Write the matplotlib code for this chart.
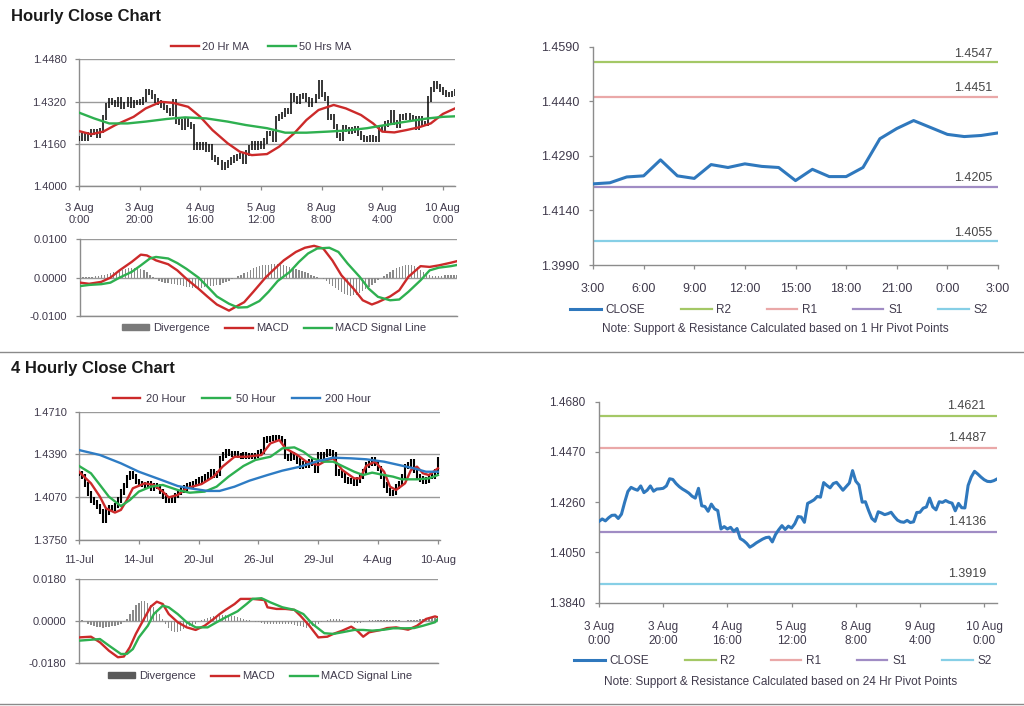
import numpy as np
import matplotlib
matplotlib.use('Agg')
import matplotlib.pyplot as plt
from matplotlib.lines import Line2D
from matplotlib.patches import Patch

plt.rcParams['font.family'] = ['Liberation Sans', 'DejaVu Sans']

# ---------------- DATA ----------------
# hourly close (3 Aug 0:00 .. 10 Aug ~4:00), one value per hourly bar
hourly_close = [
    1.4180, 1.4190, 1.4182, 1.4195, 1.4205, 1.4206, 1.4192, 1.4210, 1.4260, 1.4305,
    1.4322, 1.4315, 1.4310, 1.4328, 1.4300, 1.4310, 1.4328, 1.4306, 1.4315, 1.4316,
    1.4318, 1.4328, 1.4358, 1.4355, 1.4338, 1.4325, 1.4315, 1.4307, 1.4298, 1.4285,
    1.4277, 1.4318, 1.4245, 1.4242, 1.4222, 1.4252, 1.4232, 1.4225, 1.4148, 1.4158,
    1.4148, 1.4155, 1.4138, 1.4150, 1.4108, 1.4100, 1.4088, 1.4072, 1.4080, 1.4090,
    1.4098, 1.4106, 1.4112, 1.4114, 1.4094, 1.4125, 1.4145, 1.4162, 1.4146, 1.4160,
    1.4152, 1.4170, 1.4200, 1.4198, 1.4176, 1.4255, 1.4262, 1.4270, 1.4284, 1.4281,
    1.4342, 1.4330, 1.4320, 1.4338, 1.4343, 1.4327, 1.4310, 1.4325, 1.4340, 1.4392,
    1.4348, 1.4332, 1.4260, 1.4262, 1.4225, 1.4192, 1.4180, 1.4220, 1.4215, 1.4208,
    1.4212, 1.4218, 1.4200, 1.4185, 1.4178, 1.4176, 1.4184, 1.4175, 1.4178, 1.4217,
    1.4218, 1.4235, 1.4240, 1.4277, 1.4240, 1.4228, 1.4262, 1.4259, 1.4267, 1.4260,
    1.4256, 1.4224, 1.4255, 1.4237, 1.4236, 1.4330, 1.4366, 1.4389, 1.4378, 1.4365,
    1.4354, 1.4347, 1.4346, 1.4350, 1.4357]

hourly_ticklabels = ['3 Aug\n0:00', '3 Aug\n20:00', '4 Aug\n16:00', '5 Aug\n12:00',
                     '8 Aug\n8:00', '9 Aug\n4:00', '10 Aug\n0:00']

ma20_h_x = [0, 4, 8, 12, 18, 22, 27, 31, 36, 40, 44, 49, 53, 57, 62, 66, 71, 75, 79, 84,
            88, 93, 97, 100, 104, 108, 112, 116, 120, 124]
ma20_h = [1.4208, 1.4196, 1.4206, 1.4231, 1.4262, 1.4294, 1.4319, 1.4315, 1.4300, 1.4262,
          1.4212, 1.4162, 1.4130, 1.4117, 1.4121, 1.4149, 1.4200, 1.4250, 1.4288, 1.4307,
          1.4294, 1.4269, 1.4237, 1.4206, 1.4203, 1.4212, 1.4222, 1.4237, 1.4273, 1.4294]

ma50_h_x = [0, 5, 10, 16, 22, 29, 35, 42, 49, 55, 62, 68, 75, 82, 88, 95, 101, 108, 115, 120, 124]
ma50_h = [1.4278, 1.4256, 1.4237, 1.4237, 1.4244, 1.4254, 1.4260, 1.4256, 1.4244, 1.4231,
          1.4219, 1.4202, 1.4202, 1.4206, 1.4210, 1.4219, 1.4231, 1.4244, 1.4256, 1.4262, 1.4264]

macd_h_x = [0, 3, 7, 10, 13, 17, 20, 22, 25, 29, 32, 35, 39, 42, 45, 49, 51, 54, 57, 61,
            64, 67, 71, 74, 77, 80, 83, 86, 90, 93, 96, 98, 102, 105, 108, 112, 115, 118, 122, 124]
macd_h = [-0.0013, -0.0016, -0.0011, 0.0000, 0.0019, 0.0041, 0.0060, 0.0058, 0.0045, 0.0035,
          0.0019, -0.0003, -0.0029, -0.0050, -0.0070, -0.0086, -0.0077, -0.0064, -0.0037, 0.0000,
          0.0023, 0.0045, 0.0067, 0.0078, 0.0083, 0.0076, 0.0045, 0.0006, -0.0029, -0.0059,
          -0.0070, -0.0064, -0.0049, -0.0033, 0.0002, 0.0030, 0.0028, 0.0032, 0.0039, 0.0043]

signal_h_x = [0, 3, 7, 10, 13, 17, 20, 23, 25, 29, 32, 35, 39, 42, 45, 49, 52, 55, 59, 62,
              65, 69, 72, 75, 78, 82, 85, 88, 92, 95, 98, 102, 105, 108, 112, 115, 118, 122, 124]
signal_h = [-0.0022, -0.0019, -0.0017, -0.0013, 0.0000, 0.0015, 0.0032, 0.0050, 0.0054, 0.0050,
            0.0038, 0.0023, 0.0000, -0.0024, -0.0049, -0.0068, -0.0078, -0.0077, -0.0061, -0.0037,
            -0.0009, 0.0015, 0.0041, 0.0063, 0.0076, 0.0078, 0.0067, 0.0037, 0.0002, -0.0029,
            -0.0050, -0.0059, -0.0057, -0.0037, -0.0007, 0.0019, 0.0026, 0.0030, 0.0033]

divergence_h = [
    0.0003, 0.0002, 0.0002, 0.0001, 0.0002, 0.0003, 0.0004, 0.0006, 0.0008, 0.0010,
    0.0012, 0.0014, 0.0016, 0.0018, 0.0020, 0.0022, 0.0024, 0.0025, 0.0026, 0.0025,
    0.0023, 0.0019, 0.0014, 0.0008, 0.0002,
    -0.0004, -0.0008, -0.0011, -0.0013, -0.0015, -0.0016, -0.0017, -0.0018, -0.0020, -0.0022,
    -0.0024, -0.0025, -0.0026, -0.0027, -0.0027, -0.0026, -0.0025, -0.0024, -0.0023, -0.0022,
    -0.0020, -0.0018, -0.0015, -0.0012, -0.0008, -0.0004, 0.0000,
    0.0004, 0.0008, 0.0012, 0.0016, 0.0020, 0.0024, 0.0027, 0.0030, 0.0032, 0.0033,
    0.0034, 0.0035, 0.0035, 0.0035, 0.0034, 0.0033, 0.0031, 0.0029, 0.0026, 0.0023,
    0.0020, 0.0017, 0.0014, 0.0011, 0.0008, 0.0005, 0.0002, -0.0001, -0.0004,
    -0.0010, -0.0016, -0.0022, -0.0028, -0.0033, -0.0038, -0.0042, -0.0045, -0.0047, -0.0046,
    -0.0044, -0.0040, -0.0035, -0.0030, -0.0025, -0.0019, -0.0013, -0.0007, -0.0001,
    0.0005, 0.0010, 0.0015, 0.0020, 0.0024, 0.0027, 0.0030, 0.0032, 0.0033, 0.0033,
    0.0031, 0.0027, 0.0021, 0.0015, 0.0010, 0.0007, 0.0005,
    0.0004, 0.0004, 0.0005, 0.0006, 0.0006, 0.0007, 0.0007, 0.0008]

# 1-hour pivot chart (last 24 hours)
pivot1_labels = ['3:00', '6:00', '9:00', '12:00', '15:00', '18:00', '21:00', '0:00', '3:00']
pivot1_close = [1.4213, 1.4216, 1.4232, 1.4235, 1.4279, 1.4235, 1.4228, 1.4266, 1.4258, 1.4268,
                1.4261, 1.4258, 1.4222, 1.4253, 1.4233, 1.4233, 1.4258, 1.4337, 1.4365, 1.4387,
                1.4368, 1.4349, 1.4343, 1.4346, 1.4353]
pivot1_levels = {'R2': 1.4547, 'R1': 1.4451, 'S1': 1.4205, 'S2': 1.4055}
pivot2_levels = {'R2': 1.4621, 'R1': 1.4487, 'S1': 1.4136, 'S2': 1.3919}

# 4-hourly close (11 Jul .. 10 Aug)
close4 = [
    1.4250, 1.4225, 1.4165, 1.4100, 1.4050, 1.4030, 1.4000, 1.3965, 1.3900, 1.3960,
    1.3995, 1.3990, 1.4010, 1.4050, 1.4110, 1.4160, 1.4220, 1.4250, 1.4225, 1.4190,
    1.4175, 1.4165, 1.4160, 1.4175, 1.4140, 1.4160, 1.4150, 1.4115, 1.4080, 1.4045,
    1.4045, 1.4050, 1.4085, 1.4105, 1.4125, 1.4140, 1.4160, 1.4162, 1.4172, 1.4185,
    1.4200, 1.4206, 1.4222, 1.4236, 1.4260, 1.4236, 1.4249, 1.4360, 1.4385, 1.4410,
    1.4395, 1.4392, 1.4398, 1.4381, 1.4373, 1.4386, 1.4373, 1.4381, 1.4373, 1.4380,
    1.4400, 1.4411, 1.4498, 1.4505, 1.4511, 1.4516, 1.4514, 1.4511, 1.4486, 1.4373,
    1.4361, 1.4386, 1.4365, 1.4340, 1.4299, 1.4324, 1.4311, 1.4336, 1.4324, 1.4274,
    1.4386, 1.4373, 1.4390, 1.4411, 1.4400, 1.4391, 1.4249, 1.4261, 1.4236, 1.4199,
    1.4186, 1.4191, 1.4174, 1.4199, 1.4230, 1.4261, 1.4311, 1.4324, 1.4349, 1.4324,
    1.4286, 1.4224, 1.4162, 1.4120, 1.4100, 1.4107, 1.4149, 1.4174, 1.4224, 1.4299,
    1.4311, 1.4336, 1.4274, 1.4224, 1.4206, 1.4186, 1.4199, 1.4224, 1.4230, 1.4261,
    1.4350]
four_ticklabels = ['11-Jul', '14-Jul', '20-Jul', '26-Jul', '29-Jul', '4-Aug', '10-Aug']

ma20_4_x = [0, 4, 7, 9, 12, 14, 16, 18, 22, 25, 28, 30, 33, 36, 41, 45, 48, 52, 56, 61,
            64, 67, 69, 73, 76, 80, 83, 85, 88, 92, 94, 96, 99, 102, 104, 106, 109, 111, 113,
            115, 117, 120]
ma20_4 = [1.4261, 1.4174, 1.4074, 1.3987, 1.3955, 1.3975, 1.4049, 1.4137, 1.4174, 1.4162,
          1.4112, 1.4069, 1.4087, 1.4137, 1.4169, 1.4224, 1.4299, 1.4373, 1.4373, 1.4386,
          1.4473, 1.4498, 1.4436, 1.4386, 1.4336, 1.4311, 1.4349, 1.4361, 1.4274, 1.4211,
          1.4211, 1.4304, 1.4336, 1.4261, 1.4149, 1.4124, 1.4174, 1.4274, 1.4299, 1.4249,
          1.4236, 1.4286]
ma50_4_x = [0, 4, 7, 10, 14, 17, 20, 24, 28, 33, 37, 42, 46, 50, 55, 59, 64, 68, 72, 75,
            78, 82, 85, 88, 92, 95, 98, 102, 105, 108, 113, 117, 120]
ma50_4 = [1.4304, 1.4249, 1.4162, 1.4074, 1.4004, 1.4049, 1.4112, 1.4149, 1.4162, 1.4124,
          1.4104, 1.4112, 1.4149, 1.4224, 1.4304, 1.4349, 1.4373, 1.4436, 1.4443, 1.4411,
          1.4361, 1.4336, 1.4336, 1.4304, 1.4261, 1.4236, 1.4254, 1.4236, 1.4224, 1.4204,
          1.4204, 1.4211, 1.4236]
ma200_4_x = [0, 7, 14, 20, 27, 33, 37, 43, 47, 52, 57, 63, 68, 74, 80, 85, 91, 96, 102,
             107, 112, 116, 120]
ma200_4 = [1.4423, 1.4386, 1.4324, 1.4261, 1.4204, 1.4154, 1.4137, 1.4117, 1.4117, 1.4149,
           1.4194, 1.4236, 1.4269, 1.4299, 1.4341, 1.4366, 1.4361, 1.4354, 1.4336, 1.4311,
           1.4286, 1.4261, 1.4261]

macd_4_x = [0, 4, 7, 10, 13, 15, 17, 19, 22, 24, 26, 28, 30, 33, 36, 39, 42, 45, 47, 49,
            52, 54, 58, 62, 63, 66, 69, 72, 74, 77, 80, 83, 85, 88, 91, 93, 95, 97, 101, 103,
            106, 110, 113, 116, 119, 120]
macd_4 = [-0.0069, -0.0066, -0.0090, -0.0126, -0.0154, -0.0151, -0.0111, -0.0054, 0.0017, 0.0063,
          0.0084, 0.0074, 0.0031, -0.0004, -0.0026, -0.0037, -0.0019, 0.0010, 0.0031, 0.0049,
          0.0074, 0.0096, 0.0096, 0.0091, 0.0060, 0.0053, 0.0053, 0.0049, 0.0024, -0.0019,
          -0.0069, -0.0066, -0.0054, -0.0040, -0.0023, -0.0040, -0.0066, -0.0047, -0.0037, -0.0029,
          -0.0026, -0.0036, -0.0019, 0.0010, 0.0021, 0.0017]
signal_4_x = [0, 4, 7, 10, 14, 16, 18, 20, 23, 25, 28, 30, 33, 36, 39, 43, 46, 49, 53, 56,
              58, 61, 64, 68, 72, 75, 78, 82, 85, 88, 92, 95, 98, 102, 105, 109, 112, 115, 119, 120]
signal_4 = [-0.0083, -0.0079, -0.0076, -0.0104, -0.0140, -0.0140, -0.0119, -0.0069, -0.0019, 0.0031,
            0.0067, 0.0060, 0.0031, -0.0004, -0.0026, -0.0026, -0.0004, 0.0017, 0.0043, 0.0074,
            0.0096, 0.0099, 0.0081, 0.0060, 0.0049, 0.0031, -0.0011, -0.0051, -0.0054, -0.0047,
            -0.0037, -0.0037, -0.0040, -0.0036, -0.0030, -0.0030, -0.0029, -0.0019, -0.0004, 0.0010]
divergence_4 = [
    0.0008, 0.0006, 0.0003,
    -0.0010, -0.0015, -0.0020, -0.0024, -0.0026, -0.0027, -0.0026, -0.0024,
    -0.0022, -0.0018, -0.0014, -0.0010, -0.0004,
    0.0010, 0.0030, 0.0050, 0.0068, 0.0080, 0.0086, 0.0085, 0.0080, 0.0072, 0.0062, 0.0048, 0.0030,
    0.0010, -0.0012, -0.0030, -0.0042, -0.0046, -0.0045, -0.0040, -0.0034, -0.0028, -0.0022,
    -0.0016, -0.0010, -0.0004,
    0.0004, 0.0010, 0.0015, 0.0019, 0.0022, 0.0024, 0.0026, 0.0027, 0.0027, 0.0026,
    0.0024, 0.0021, 0.0018, 0.0014, 0.0010, 0.0007, 0.0004, 0.0001,
    -0.0002, -0.0005, -0.0008, -0.0010, -0.0012, -0.0013, -0.0013, -0.0012, -0.0011, -0.0010,
    -0.0010, -0.0011, -0.0013, -0.0016, -0.0019, -0.0022, -0.0025, -0.0027, -0.0026, -0.0022,
    -0.0016, -0.0010, -0.0004, 0.0002,
    0.0007, 0.0010, 0.0011, 0.0010, 0.0008, 0.0005,
    0.0002, -0.0002, -0.0005, -0.0007, -0.0008, -0.0006, -0.0003, 0.0001, 0.0004, 0.0006,
    0.0006, 0.0005,
    0.0004, 0.0004, 0.0005, 0.0006, 0.0006, 0.0005, 0.0004, 0.0003, 0.0003, 0.0004,
    0.0005, 0.0006, 0.0007, 0.0008, 0.0010, 0.0012, 0.0014, 0.0015, 0.0016, 0.0016]

# ---------------- STYLE ----------------
W, H = 1024, 706
AXC = '#8c8c8c'
GRID = '#9a9a9a'
TXT = '#403a4c'
RED = '#cc2a2a'
GREEN = '#2eb050'
BLUE = '#2e7cc4'
CLOSE_C = '#2f78bd'
LVL_C = {'R2': '#a4c866', 'R1': '#eaa8a8', 'S1': '#a08cc4', 'S2': '#86cfe6'}
DIV_C = '#8a8a8a'
WICK_H = 0.0010   # drawing extension of the hourly bars
WICK_4 = 0.0020   # drawing extension of the 4-hourly bars

fig = plt.figure(figsize=(W / 100, H / 100), dpi=100)


def px_axes(l, t, r, b):
    return fig.add_axes([l / W, 1 - b / H, (r - l) / W, (b - t) / H])


def excel_style(ax, grid=True, size=8, pad=6):
    for s in ('top', 'right'):
        ax.spines[s].set_visible(False)
    for s in ('left', 'bottom'):
        ax.spines[s].set_color(AXC)
        ax.spines[s].set_linewidth(1.0)
    ax.tick_params(colors=AXC, labelcolor=TXT, labelsize=size, length=3, width=0.9, pad=pad)
    if grid:
        ax.yaxis.grid(True, color=GRID, lw=1.0)
        ax.set_axisbelow(True)


def draw_bars(ax, close, lw, wick):
    c = np.asarray(close)
    o = np.r_[c[0], c[:-1]]
    hi = np.maximum(o, c) + wick
    lo = np.minimum(o, c) - wick
    ax.vlines(np.arange(len(c)), lo, hi, color='black', lw=lw, zorder=3)


def fig_legend(handles, labels, cx, cy, **kw):
    opts = dict(loc='center', frameon=False, fontsize=8, ncol=len(handles),
                handlelength=2.5, handletextpad=0.3, columnspacing=1.6, borderaxespad=0,
                borderpad=0)
    opts.update(kw)
    leg = fig.legend(handles, labels, bbox_to_anchor=(cx / W, 1 - cy / H), **opts)
    for t in leg.get_texts():
        t.set_color(TXT)
    return leg


def fmt4(ax):
    ax.yaxis.set_major_formatter(matplotlib.ticker.FuncFormatter(lambda v, p: f'{v:.4f}'))


# ---------------- TITLES / SEPARATORS ----------------
fig.text(11 / W, 1 - 16 / H, 'Hourly Close Chart', fontsize=12, weight='bold', va='center', color='#1a1a1a')
fig.text(11 / W, 1 - 369 / H, '4 Hourly Close Chart', fontsize=12, weight='bold', va='center', color='#1a1a1a')
for yy in (352, 704):
    fig.add_artist(Line2D([0, 1], [1 - yy / H] * 2, transform=fig.transFigure, color='#8a8a8a', lw=1.0))

# ---------------- PANEL 1 : hourly price ----------------
ax1 = px_axes(79, 59.3, 455, 186)
excel_style(ax1)
draw_bars(ax1, hourly_close, 1.1, WICK_H)
ax1.plot(ma20_h_x, ma20_h, color=RED, lw=1.7, zorder=4)
ax1.plot(ma50_h_x, ma50_h, color=GREEN, lw=1.7, zorder=4)
ax1.set_xlim(0, 124)
ax1.set_ylim(1.4000, 1.4480)
ax1.set_yticks([1.4000, 1.4160, 1.4320, 1.4480])
fmt4(ax1)
ax1.set_xticks(np.arange(0, 121, 20))
ax1.set_xticklabels(hourly_ticklabels, linespacing=1.25)
ax1.tick_params(axis='x', pad=9)
fig_legend([Line2D([], [], color=RED, lw=1.7), Line2D([], [], color=GREEN, lw=1.7)],
           ['20 Hr MA', '50 Hrs MA'], 261, 47, columnspacing=1.7)

# ---------------- PANEL 1b : hourly MACD ----------------
ax1m = px_axes(80, 239.3, 457, 316)
excel_style(ax1m)
ax1m.bar(np.arange(len(divergence_h)), divergence_h, width=0.45, color=DIV_C, zorder=2)
ax1m.plot(macd_h_x, macd_h, color=RED, lw=1.7, zorder=4)
ax1m.plot(signal_h_x, signal_h, color=GREEN, lw=1.7, zorder=4)
ax1m.set_xlim(0, 124)
ax1m.set_ylim(-0.0100, 0.0100)
ax1m.set_yticks([-0.0100, 0.0, 0.0100])
fmt4(ax1m)
ax1m.set_xticks([])
fig_legend([Patch(color='#7a7a7a'), Line2D([], [], color=RED, lw=1.7), Line2D([], [], color=GREEN, lw=1.7)],
           ['Divergence', 'MACD', 'MACD Signal Line'], 274, 328, handleheight=0.45, columnspacing=1.4)

# ---------------- PANEL 2 : 1 hr pivot chart ----------------
ax2 = px_axes(593, 46.7, 998, 265)
excel_style(ax2, grid=False, size=9, pad=7)
x2 = np.arange(len(pivot1_close))
for k in ('R2', 'R1', 'S1', 'S2'):
    ax2.axhline(pivot1_levels[k], color=LVL_C[k], lw=1.6, zorder=2)
    ax2.annotate(f'{pivot1_levels[k]:.4f}', xy=(1, pivot1_levels[k]), xycoords=('axes fraction', 'data'),
                 xytext=(-4, 2), textcoords='offset points', ha='right', va='bottom',
                 fontsize=9, color='#454545')
ax2.plot(x2, pivot1_close, color=CLOSE_C, lw=2.2, zorder=3)
ax2.set_xlim(0, 24)
ax2.set_ylim(1.3990, 1.4590)
ax2.set_yticks([1.3990, 1.4140, 1.4290, 1.4440, 1.4590])
fmt4(ax2)
ax2.set_xticks(np.arange(0, 25, 3))
ax2.set_xticklabels(pivot1_labels)
ax2.tick_params(axis='x', pad=10)
piv_handles = [Line2D([], [], color=CLOSE_C, lw=2.2)] + [Line2D([], [], color=LVL_C[k], lw=1.6) for k in ('R2', 'R1', 'S1', 'S2')]
fig_legend(piv_handles, ['CLOSE', 'R2', 'R1', 'S1', 'S2'], 779, 310, fontsize=8.5,
           handlelength=2.6, handletextpad=0.4, columnspacing=3.0)
fig.text(775 / W, 1 - 329 / H, 'Note: Support & Resistance Calculated based on 1 Hr Pivot Points',
         ha='center', va='center', fontsize=8.5, color=TXT)

# ---------------- PANEL 3 : 4 hourly price ----------------
ax3 = px_axes(79, 411.7, 440, 540)
excel_style(ax3)
draw_bars(ax3, close4, 1.5, WICK_4)
ax3.plot(ma20_4_x, ma20_4, color=RED, lw=1.7, zorder=4)
ax3.plot(ma50_4_x, ma50_4, color=GREEN, lw=1.7, zorder=4)
ax3.plot(ma200_4_x, ma200_4, color=BLUE, lw=1.7, zorder=4)
ax3.set_xlim(0, 120.7)
ax3.set_ylim(1.3750, 1.4710)
ax3.set_yticks([1.3750, 1.4070, 1.4390, 1.4710])
fmt4(ax3)
ax3.set_xticks(np.arange(0, 121, 20))
ax3.set_xticklabels(four_ticklabels)
ax3.tick_params(axis='x', pad=8)
fig_legend([Line2D([], [], color=RED, lw=1.7), Line2D([], [], color=GREEN, lw=1.7), Line2D([], [], color=BLUE, lw=1.7)],
           ['20 Hour', '50 Hour', '200 Hour'], 242, 399, handletextpad=0.5, columnspacing=1.5)

# ---------------- PANEL 3b : 4 hourly MACD ----------------
ax3m = px_axes(79, 579.3, 438, 663.3)
excel_style(ax3m)
ax3m.bar(np.arange(len(divergence_4)), divergence_4, width=0.45, color=DIV_C, zorder=2)
ax3m.plot(macd_4_x, macd_4, color=RED, lw=1.7, zorder=4)
ax3m.plot(signal_4_x, signal_4, color=GREEN, lw=1.7, zorder=4)
ax3m.set_xlim(0, 120)
ax3m.set_ylim(-0.0180, 0.0180)
ax3m.set_yticks([-0.0180, 0.0, 0.0180])
fmt4(ax3m)
ax3m.set_xticks([])
fig_legend([Patch(color='#5a5a5a'), Line2D([], [], color=RED, lw=1.7), Line2D([], [], color=GREEN, lw=1.7)],
           ['Divergence', 'MACD', 'MACD Signal Line'], 260, 676, handleheight=0.45, columnspacing=1.4)

# ---------------- PANEL 4 : 24 hr pivot chart ----------------
ax4 = px_axes(599, 401.7, 997, 602.7)
excel_style(ax4, grid=False, size=8.5, pad=7)
x4 = np.arange(len(hourly_close))
for k in ('R2', 'R1', 'S1', 'S2'):
    ax4.axhline(pivot2_levels[k], color=LVL_C[k], lw=1.6, zorder=2)
    ax4.annotate(f'{pivot2_levels[k]:.4f}', xy=(1, pivot2_levels[k]), xycoords=('axes fraction', 'data'),
                 xytext=(-8, 3), textcoords='offset points', ha='right', va='bottom',
                 fontsize=9, color='#454545')
ax4.plot(x4, hourly_close, color=CLOSE_C, lw=2.2, zorder=3)
ax4.set_xlim(0, 124)
ax4.set_ylim(1.3840, 1.4680)
ax4.set_yticks([1.3840, 1.4050, 1.4260, 1.4470, 1.4680])
fmt4(ax4)
ax4.set_xticks(np.arange(0, 121, 20))
ax4.set_xticklabels(hourly_ticklabels, linespacing=1.25)
ax4.tick_params(axis='x', pad=10)
fig_legend(piv_handles, ['CLOSE', 'R2', 'R1', 'S1', 'S2'], 783, 661, fontsize=8.5,
           handlelength=2.6, handletextpad=0.4, columnspacing=3.0)
fig.text(781 / W, 1 - 682 / H, 'Note: Support & Resistance Calculated based on 24 Hr Pivot Points',
         ha='center', va='center', fontsize=8.5, color=TXT)

fig.savefig('out.png', dpi=100, facecolor='white')
